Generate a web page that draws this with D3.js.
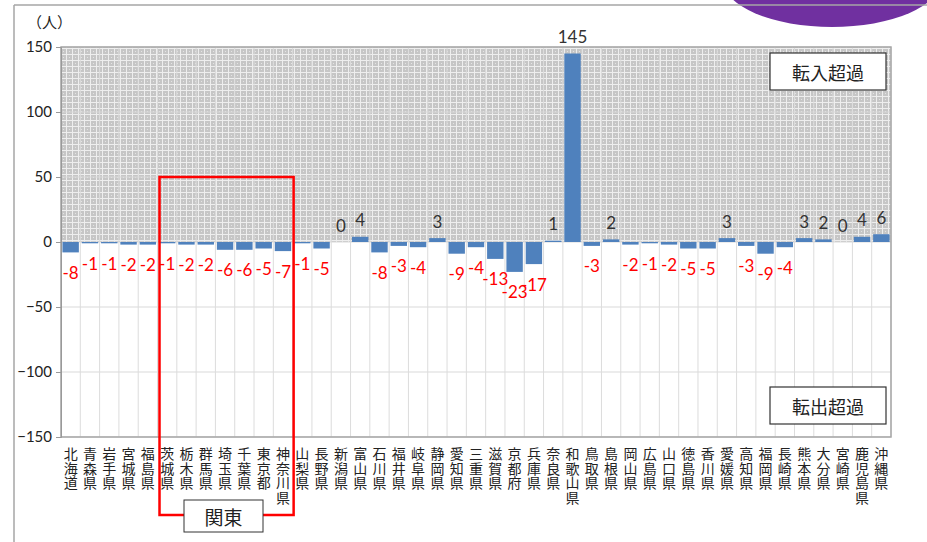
<!DOCTYPE html>
<html><head><meta charset="utf-8">
<script src="https://cdn.jsdelivr.net/npm/d3@7"></script>
<style>body{margin:0;background:#fff}svg{display:block}</style>
</head><body>
<script>
const categories = ["北海道","青森県","岩手県","宮城県","福島県","茨城県","栃木県","群馬県","埼玉県","千葉県","東京都","神奈川県","山梨県","長野県","新潟県","富山県","石川県","福井県","岐阜県","静岡県","愛知県","三重県","滋賀県","京都府","兵庫県","奈良県","和歌山県","鳥取県","島根県","岡山県","広島県","山口県","徳島県","香川県","愛媛県","高知県","福岡県","長崎県","熊本県","大分県","宮崎県","鹿児島県","沖縄県"];
const values = [-8,-1,-1,-2,-2,-1,-2,-2,-6,-6,-5,-7,-1,-5,0,4,-8,-3,-4,3,-9,-4,-13,-23,-17,1,145,-3,2,-2,-1,-2,-5,-5,3,-3,-9,-4,3,2,0,4,6];
const yTicks = [150,100,50,0,-50,-100,-150];
const kantoGroup = ["茨城県","神奈川県"];

const W = 927, H = 542;
const svg = d3.select("body").append("svg").attr("width", W).attr("height", H);

// purple shape and frame
svg.append("ellipse").attr("cx", 832).attr("cy", -20).attr("rx", 109).attr("ry", 47).attr("fill", "#7030A0");
svg.append("line").attr("x1", 14).attr("x2", W).attr("y1", 5).attr("y2", 5).attr("stroke", "#a6a6a6").attr("stroke-width", 1.5);
svg.append("line").attr("x1", 14).attr("x2", 14).attr("y1", 5).attr("y2", H).attr("stroke", "#a6a6a6").attr("stroke-width", 1.5);

const x = d3.scaleBand().domain(categories).range([61, 891]).paddingInner(0.15).paddingOuter(0.075);
const y = d3.scaleLinear().domain([-150, 150]).range([437, 47]);
const step = x.step();
const x0 = 61, x1 = 891;

// pattern
const defs = svg.append("defs");
const pat = defs.append("pattern").attr("id", "pat").attr("patternUnits", "userSpaceOnUse").attr("width", 6).attr("height", 6);
pat.append("rect").attr("width", 6).attr("height", 6).attr("fill", "#c6c6c6");
pat.append("rect").attr("x", 0).attr("y", 0).attr("width", 6).attr("height", 1).attr("fill", "#eeeeee");
pat.append("rect").attr("x", 0).attr("y", 0).attr("width", 1).attr("height", 6).attr("fill", "#eeeeee");
pat.append("rect").attr("x", 3).attr("y", 3).attr("width", 1).attr("height", 1).attr("fill", "#e4e4e4");

svg.append("rect").attr("x", x0).attr("y", y(150)).attr("width", x1 - x0).attr("height", y(0) - y(150)).attr("fill", "url(#pat)");

// gridlines
const g = svg.append("g");
g.selectAll("line.h").data(yTicks).join("line")
  .attr("x1", x0).attr("x2", x1).attr("y1", d => y(d)).attr("y2", d => y(d))
  .attr("stroke", "#d9d9d9").attr("stroke-width", 1);
const bounds = d3.range(categories.length + 1).map(i => x0 + i * step);
g.selectAll("line.v").data(bounds).join("line")
  .attr("x1", d => d).attr("x2", d => d).attr("y1", y(150)).attr("y2", y(-150))
  .attr("stroke", "#dcdcdc").attr("stroke-width", 1);

// bars
const data = categories.map((c, i) => ({c, v: values[i]}));
svg.append("g").selectAll("rect").data(data).join("rect")
  .attr("x", d => x(d.c)).attr("width", x.bandwidth())
  .attr("y", d => y(Math.max(0, d.v))).attr("height", d => Math.abs(y(d.v) - y(0)))
  .attr("fill", "#4F81BD");

// plot border and axis
svg.append("rect").attr("x", x0).attr("y", y(150)).attr("width", x1 - x0).attr("height", y(-150) - y(150))
  .attr("fill", "none").attr("stroke", "#a6a6a6").attr("stroke-width", 1.5);
const yAxis = d3.axisLeft(y).tickValues(yTicks).tickSize(5).tickPadding(4);
const ya = svg.append("g").attr("transform", `translate(${x0},0)`).call(yAxis);
ya.select(".domain").attr("stroke", "#999");
ya.selectAll(".tick line").attr("stroke", "#999");
ya.selectAll(".tick text").attr("font-family", "Lato, 'Liberation Sans', sans-serif").attr("font-size", 15).attr("fill", "#222");

svg.append("text").attr("x", 27).attr("y", 28).text("（人）")
  .attr("font-family", "'Noto Sans CJK JP'").attr("font-size", 15).attr("fill", "#222");

// value labels
svg.append("g").selectAll("text").data(data).join("text")
  .attr("x", d => x(d.c) + x.bandwidth() / 2)
  .attr("y", d => d.v < 0 ? y(d.v) + 20 : y(d.v) - 17)
  .attr("text-anchor", "middle").attr("dominant-baseline", "central")
  .attr("font-family", "Lato, 'Liberation Sans', sans-serif").attr("font-size", 17)
  .attr("fill", d => d.v < 0 ? "#FF0000" : "#333")
  .text(d => d.v);

// category labels (stacked characters)
const xl = svg.append("g").selectAll("text").data(categories).join("text")
  .attr("text-anchor", "middle")
  .attr("font-family", "'Noto Sans CJK JP'").attr("font-size", 14).attr("fill", "#222");
xl.each(function(c) {
  const t = d3.select(this);
  Array.from(c).forEach((ch, i) => {
    t.append("tspan").attr("x", x(c) + x.bandwidth() / 2).attr("y", 459 + i * 14.5).text(ch);
  });
});

// Kanto box
const kx0 = x0 + categories.indexOf(kantoGroup[0]) * step + 2;
const kx1 = x0 + (categories.indexOf(kantoGroup[1]) + 1) * step + 1;
svg.append("rect").attr("x", kx0).attr("y", y(50)).attr("width", kx1 - kx0).attr("height", 515 - y(50))
  .attr("fill", "none").attr("stroke", "#FF0000").attr("stroke-width", 2.5);
svg.append("rect").attr("x", 184).attr("y", 500).attr("width", 79).attr("height", 32)
  .attr("fill", "#fff").attr("stroke", "#333").attr("stroke-width", 1);
svg.append("text").attr("x", 223.5).attr("y", 516).attr("text-anchor", "middle").attr("dominant-baseline", "central")
  .attr("font-family", "'Noto Sans CJK JP'").attr("font-size", 19).attr("fill", "#222").text("関東");

// annotation boxes
[["転入超過", 53], ["転出超過", 387]].forEach(([t, yy]) => {
  svg.append("rect").attr("x", 770).attr("y", yy).attr("width", 116).attr("height", 37)
    .attr("fill", "#fff").attr("stroke", "#333").attr("stroke-width", 1.2);
  svg.append("text").attr("x", 828).attr("y", yy + 18.5).attr("text-anchor", "middle").attr("dominant-baseline", "central")
    .attr("font-family", "'Noto Sans CJK JP'").attr("font-size", 18).attr("fill", "#222").text(t);
});
</script>
</body></html>
